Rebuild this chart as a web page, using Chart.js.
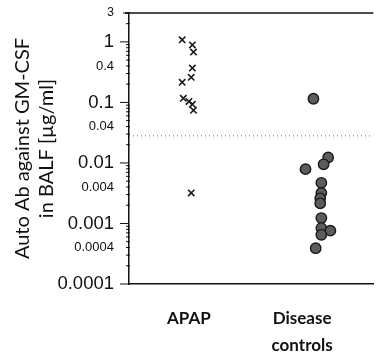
<!DOCTYPE html>
<html>
<head>
<meta charset="utf-8">
<script src="https://cdn.jsdelivr.net/npm/chart.js@4"></script>
<style>
  html, body { margin: 0; padding: 0; background: #fff; }
  #wrap { width: 380px; height: 354px; }
</style>
</head>
<body>
<div id="wrap"><canvas id="chart"></canvas></div>
<script>
// groups on the x axis
const groups = ["APAP", ["Disease", "controls"]];

// APAP values (µg/ml) and their x jitter (1 = APAP column)
const apapY = [1.08, 0.89, 0.68, 0.37, 0.26, 0.215, 0.117, 0.104, 0.093, 0.074, 0.0032];
const apapX = [0.94, 1.03, 1.04, 1.03, 1.02, 0.94, 0.95, 1.00, 1.03, 1.04, 1.02];

// disease control values and x jitter (2 = controls column)
const ctrlY = [0.115, 0.0123, 0.0095, 0.0079, 0.0047, 0.0032, 0.0026, 0.00215, 0.00123, 0.00084, 0.00076, 0.00065, 0.00039];
const ctrlX = [2.10, 2.23, 2.19, 2.03, 2.17, 2.17, 2.16, 2.16, 2.17, 2.17, 2.25, 2.17, 2.12];

// cut-off (dotted line)
const cutoff = 0.028;

// y tick labels
const yTicks = [0.0001, 0.0004, 0.001, 0.004, 0.01, 0.04, 0.1, 0.4, 1, 3];
const yBig = [0.0001, 0.001, 0.01, 0.1, 1];

const xMin = 0.47, xMax = 2.63;

// frame top line + minor ticks on the y axis
const axisExtras = {
  id: "axisExtras",
  afterDraw(chart) {
    const ctx = chart.ctx;
    const a = chart.chartArea;
    const y = chart.scales.y;
    ctx.save();
    ctx.strokeStyle = "#111";
    ctx.lineWidth = 1.5;
    ctx.beginPath();
    ctx.moveTo(a.left - 4, a.top);
    ctx.lineTo(a.right, a.top);
    ctx.stroke();
    ctx.lineWidth = 1;
    for (let e = -4; e <= 0; e++) {
      for (let m = 1; m <= 9; m++) {
        const v = m * Math.pow(10, e);
        if (v > 3.0001) break;
        const p = y.getPixelForValue(v);
        const big = m === 1;
        ctx.beginPath();
        ctx.moveTo(a.left - (big ? 9 : 3), p);
        ctx.lineTo(a.left + (big ? 0 : 1), p);
        ctx.stroke();
      }
    }
    const p3 = y.getPixelForValue(3);
    ctx.beginPath();
    ctx.moveTo(a.left - 6, p3);
    ctx.lineTo(a.left, p3);
    ctx.stroke();
    ctx.restore();
  }
};

new Chart(document.getElementById("chart"), {
  type: "scatter",
  data: {
    datasets: [
      {
        label: "APAP",
        data: apapY.map((v, i) => ({ x: apapX[i], y: v })),
        pointStyle: "crossRot",
        pointRadius: 4.5,
        borderColor: "#1a1a1a",
        borderWidth: 1.6
      },
      {
        label: "Disease controls",
        data: ctrlY.map((v, i) => ({ x: ctrlX[i], y: v })),
        pointStyle: "circle",
        pointRadius: 5.2,
        backgroundColor: "#5c5c5c",
        borderColor: "#1a1a1a",
        borderWidth: 1.4
      },
      {
        type: "line",
        label: "cut-off",
        data: [{ x: xMin, y: cutoff }, { x: xMax, y: cutoff }],
        borderColor: "#666",
        borderWidth: 1,
        borderDash: [1, 3],
        pointRadius: 0
      }
    ]
  },
  options: {
    responsive: true,
    maintainAspectRatio: false,
    animation: false,
    layout: { padding: { top: 13, right: 2, left: 0, bottom: 0 } },
    plugins: { legend: { display: false }, tooltip: { enabled: false } },
    scales: {
      x: {
        type: "linear",
        min: xMin,
        max: xMax,
        afterBuildTicks: s => { s.ticks = [{ value: 1 }, { value: 2 }]; },
        afterFit: s => { s.height = 70; },
        grid: { display: false, drawTicks: false },
        border: { display: true, color: "#111", width: 1.5 },
        ticks: {
          padding: 21,
          color: "#111",
          maxRotation: 0,
          font: { family: "Lato", size: 17, weight: "bold", lineHeight: 1.6 },
          callback: v => groups[Math.round(v) - 1]
        }
      },
      y: {
        type: "logarithmic",
        min: 0.0001,
        max: 3,
        afterBuildTicks: s => { s.ticks = yTicks.map(v => ({ value: v })); },
        afterFit: s => { s.width = 129; s.paddingTop = 0; s.paddingBottom = 0; },
        grid: { display: false, drawTicks: false },
        border: { display: true, color: "#111", width: 1.5 },
        ticks: {
          padding: 15,
          color: "#111",
          autoSkip: false,
          font: c => yBig.includes(c.tick.value)
            ? { family: "Liberation Sans", size: 18.5 }
            : { family: "Liberation Sans", size: c.tick.value === 3 ? 12 : 13 },
          callback: v => String(v)
        },
        title: {
          display: true,
          text: ["Auto Ab against GM-CSF", "in BALF [µg/ml]"],
          color: "#111",
          padding: { top: 10.5, bottom: 0 },
          font: { family: "Lato", size: 20, lineHeight: 1.2 }
        }
      }
    }
  },
  plugins: [axisExtras]
});
</script>
</body>
</html>
